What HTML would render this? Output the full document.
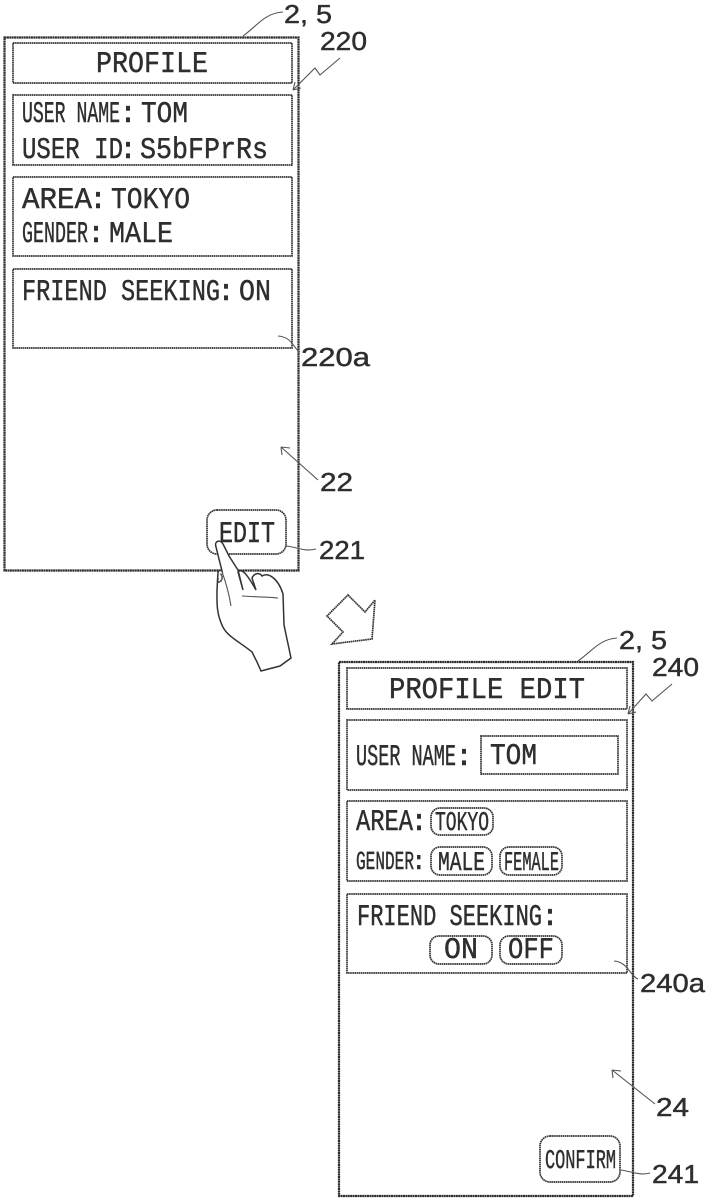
<!DOCTYPE html>
<html><head><meta charset="utf-8"><style>
html,body{margin:0;padding:0;background:#fff}
svg{display:block}
text{font-family:"Liberation Mono",monospace;font-size:30px;fill:#2e2e2e;stroke:#2e2e2e;stroke-width:.45}
.s{font-family:"Liberation Sans",sans-serif;font-size:26px}
.b{fill:none;stroke:#2a2a2a;stroke-width:2.2;stroke-dasharray:2 .4}
.t{fill:none;stroke:#333;stroke-width:1.7;stroke-dasharray:1.6 .5}
.l{fill:none;stroke:#555;stroke-width:1.1}
</style></head><body>
<svg width="707" height="1200" viewBox="0 0 707 1200" xmlns="http://www.w3.org/2000/svg">
<g lang="en" text-rendering="geometricPrecision" lengthAdjust="spacingAndGlyphs">
<!-- left screen -->
<rect class="b" x="4.5" y="37.5" width="294" height="533"/>
<rect class="t" x="13" y="43" width="279" height="40"/>
<rect class="t" x="13" y="95" width="279" height="70"/>
<rect class="t" x="13" y="177" width="279" height="79"/>
<rect class="t" x="13" y="269" width="279" height="79"/>
<text x="96" y="72" textLength="112" lengthAdjust="spacingAndGlyphs">PROFILE</text>
<text x="22" y="122" textLength="98" lengthAdjust="spacingAndGlyphs">USER NAME</text>
<text x="119" y="122">:</text>
<text x="141" y="122" textLength="47" lengthAdjust="spacingAndGlyphs">TOM</text>
<text x="22" y="158" textLength="101" lengthAdjust="spacingAndGlyphs">USER ID</text>
<text x="119" y="158">:</text>
<text x="140" y="158" textLength="128" lengthAdjust="spacingAndGlyphs">S5bFPrRs</text>
<text x="22" y="208" textLength="70" lengthAdjust="spacingAndGlyphs">AREA</text>
<text x="89" y="208">:</text>
<text x="111" y="208" textLength="79" lengthAdjust="spacingAndGlyphs">TOKYO</text>
<text x="22" y="242" textLength="66" lengthAdjust="spacingAndGlyphs">GENDER</text>
<text x="87" y="242">:</text>
<text x="109" y="242" textLength="64" lengthAdjust="spacingAndGlyphs">MALE</text>
<text x="22" y="300" textLength="198" lengthAdjust="spacingAndGlyphs">FRIEND SEEKING</text>
<text x="217" y="300">:</text>
<text x="239" y="300" textLength="32" lengthAdjust="spacingAndGlyphs">ON</text>
<rect class="t" x="207" y="510" width="79" height="44" rx="10"/>
<text x="219" y="542" textLength="56" lengthAdjust="spacingAndGlyphs">EDIT</text>
<!-- hand -->
<path d="M216 547 C214 541 220 539 223 544 L229 556 L238 570 L243 590 L238 572 C242 568 247 574 256 590 L252 578 C255 572 260 573 262 576 C268 572 278 578 283 594 L284 625 L291 658 L280 666 L261 671 L257 662 L252 652 C240 642 226 636 222 625 C216 612 217 600 217 590 L218 572 C219 570 221 570 222 571 Z" fill="#fff" stroke="#333" stroke-width="1.5"/>
<path class="l" d="M222 572 C227 585 230 600 231 606 M242 596 C257 597 270 597 278 598"/>
<path class="t" d="M218 578 C217 582 218 583 221 581 C223 578 222 574 220 574"/>
<path class="t" d="M348 595 L365 612 L375 600 L372 639 L332 644 L343 632 L327 616 Z" fill="#fff"/>
<!-- right screen -->
<rect class="b" x="339" y="662" width="294" height="534"/>
<rect class="t" x="347" y="668" width="280" height="41"/>
<rect class="t" x="347" y="720" width="280" height="70"/>
<rect class="t" x="347" y="801" width="280" height="80"/>
<rect class="t" x="347" y="894" width="280" height="79"/>
<text x="389" y="698" textLength="196" lengthAdjust="spacingAndGlyphs">PROFILE EDIT</text>
<text x="356" y="765" textLength="100" lengthAdjust="spacingAndGlyphs">USER NAME</text>
<text x="455" y="765">:</text>
<rect class="t" x="481" y="736" width="137" height="38"/>
<text x="490" y="764" textLength="47" lengthAdjust="spacingAndGlyphs">TOM</text>
<text x="356" y="830" textLength="57" lengthAdjust="spacingAndGlyphs">AREA</text>
<text x="410" y="830">:</text>
<rect class="t" x="431" y="808" width="62" height="27" rx="9"/>
<text x="435" y="830" textLength="54" lengthAdjust="spacingAndGlyphs" style="font-size:27px">TOKYO</text>
<text x="356" y="869" textLength="58" lengthAdjust="spacingAndGlyphs" style="font-size:26px">GENDER</text>
<text x="411" y="869" style="font-size:26px">:</text>
<rect class="t" x="431" y="847" width="61" height="28" rx="9"/>
<text x="438" y="870" textLength="47" lengthAdjust="spacingAndGlyphs" style="font-size:27px">MALE</text>
<rect class="t" x="500" y="847" width="62" height="28" rx="9"/>
<text x="504" y="870" textLength="55" lengthAdjust="spacingAndGlyphs" style="font-size:27px">FEMALE</text>
<text x="357" y="925" textLength="185" lengthAdjust="spacingAndGlyphs">FRIEND SEEKING</text>
<text x="541" y="925">:</text>
<rect class="t" x="430" y="936" width="62" height="28" rx="9"/>
<text x="444" y="958" textLength="34" lengthAdjust="spacingAndGlyphs">ON</text>
<rect class="t" x="500" y="936" width="62" height="28" rx="9"/>
<text x="508" y="958" textLength="46" lengthAdjust="spacingAndGlyphs">OFF</text>
<rect class="t" x="540" y="1136" width="80" height="46" rx="10"/>
<text x="545" y="1168" textLength="71" lengthAdjust="spacingAndGlyphs" style="font-size:27px">CONFIRM</text>
<!-- labels left -->
<text class="s" x="284" y="23" textLength="48" lengthAdjust="spacingAndGlyphs">2, 5</text>
<text class="s" x="320" y="50" textLength="47" lengthAdjust="spacingAndGlyphs">220</text>
<text class="s" x="301" y="366" textLength="69" lengthAdjust="spacingAndGlyphs">220a</text>
<text class="s" x="320" y="491" textLength="33" lengthAdjust="spacingAndGlyphs">22</text>
<text class="s" x="319" y="559" textLength="46" lengthAdjust="spacingAndGlyphs">221</text>
<path class="l" d="M243 36 C258 25 265 13 283 12"/>
<path class="l" d="M340 58 L320 75 L315 68 L293 90 M293 90 l8 -2 M293 90 l2 -8"/>
<path class="l" d="M278 336 C293 337 294 350 300 352"/>
<path class="l" d="M281 447 L318 480 M281 447 l9 1 M281 447 l1 8"/>
<path class="l" d="M286 546 C298 547 303 552 316 549"/>
<!-- labels right -->
<text class="s" x="619" y="649" textLength="48" lengthAdjust="spacingAndGlyphs">2, 5</text>
<text class="s" x="652" y="676" textLength="47" lengthAdjust="spacingAndGlyphs">240</text>
<text class="s" x="640" y="992" textLength="65" lengthAdjust="spacingAndGlyphs">240a</text>
<text class="s" x="656" y="1116" textLength="33" lengthAdjust="spacingAndGlyphs">24</text>
<text class="s" x="652" y="1183" textLength="47" lengthAdjust="spacingAndGlyphs">241</text>
<path class="l" d="M578 661 C592 651 600 639 617 638"/>
<path class="l" d="M672 684 L652 701 L646 694 L628 714 M628 714 l8 -2 M628 714 l2 -8"/>
<path class="l" d="M614 961 C628 962 630 976 638 979"/>
<path class="l" d="M612 1070 L655 1104 M612 1070 l9 1 M612 1070 l1 8"/>
<path class="l" d="M620 1170 C632 1171 638 1176 650 1173"/>
</g>
</svg>
</body></html>
